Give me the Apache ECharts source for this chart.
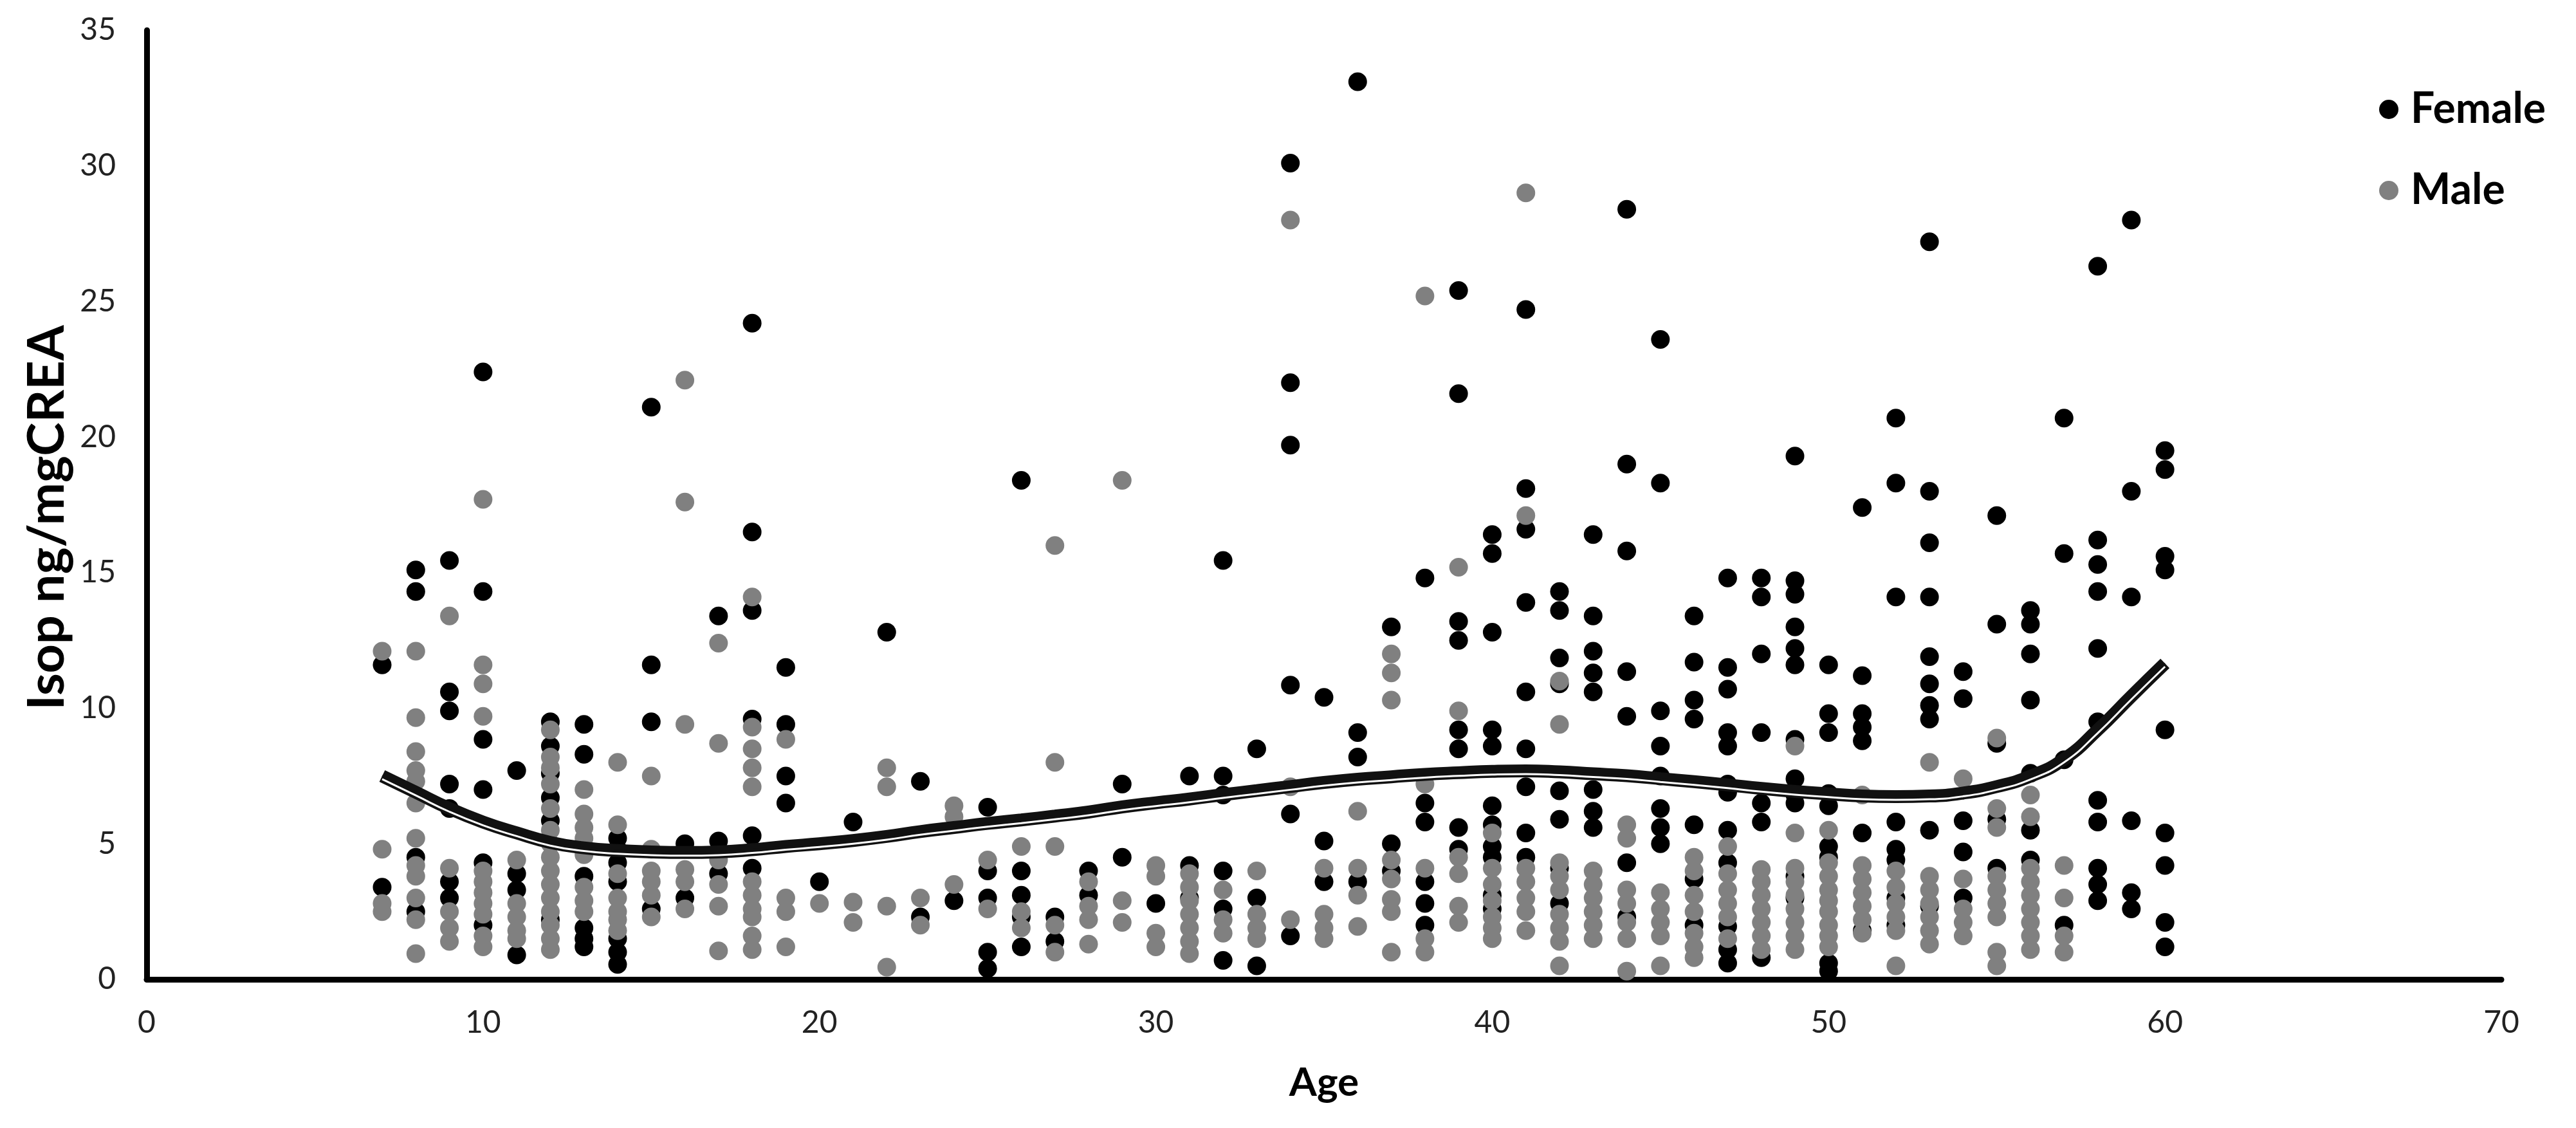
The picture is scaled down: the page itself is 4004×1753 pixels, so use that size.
<!DOCTYPE html>
<html>
<head>
<meta charset="utf-8">
<script src="https://cdn.jsdelivr.net/npm/echarts@6/dist/echarts.min.js"></script>
<style>
html,body{margin:0;padding:0;background:#fff;}
#chart{width:4004px;height:1753px;}
</style>
</head>
<body>
<div id="chart"></div>
<script>
// ---- data ----
const seriesNames = ['Female', 'Male'];
const xTicks = [0, 10, 20, 30, 40, 50, 60, 70];
const yTicks = [0, 5, 10, 15, 20, 25, 30, 35];

const femalePoints = [
[7,11.6],[7,3.4],
[8,15.1],[8,14.3],[8,4.5],[8,2.5],
[9,15.45],[9,10.6],[9,9.9],[9,7.2],[9,6.3],[9,3.6],[9,3.0],
[10,22.4],[10,14.3],[10,8.85],[10,7.0],[10,4.3],[10,2.0],
[11,7.7],[11,3.9],[11,3.3],[11,0.9],
[12,9.5],[12,8.6],[12,7.6],[12,6.7],[12,5.85],[12,2.2],
[13,9.4],[13,8.3],[13,3.8],[13,1.9],[13,1.5],[13,1.2],
[14,5.2],[14,4.8],[14,4.3],[14,3.6],[14,1.5],[14,1.0],[14,0.55],
[15,21.1],[15,11.6],[15,9.5],[15,2.6],
[16,5.0],[16,3.0],
[17,13.4],[17,5.1],[17,3.9],
[18,24.2],[18,16.5],[18,13.6],[18,9.6],[18,5.3],[18,4.1],
[19,11.5],[19,9.4],[19,7.5],[19,6.5],
[20,3.6],
[21,5.8],
[22,12.8],
[23,7.3],[23,2.3],
[24,2.9],
[25,6.35],[25,4.0],[25,3.0],[25,1.0],[25,0.4],
[26,18.4],[26,4.0],[26,3.1],[26,2.3],[26,1.2],
[27,2.3],[27,1.4],
[28,4.0],[28,3.1],
[29,7.2],[29,4.5],
[30,2.8],
[31,7.5],[31,4.2],[31,3.0],
[32,15.45],[32,7.5],[32,6.8],[32,4.0],[32,2.6],[32,0.7],
[33,8.5],[33,3.0],[33,0.5],
[34,30.1],[34,22.0],[34,19.7],[34,10.85],[34,6.1],[34,1.6],
[35,10.4],[35,5.1],[35,3.6],
[36,33.1],[36,9.1],[36,8.2],[36,3.6],
[37,13.0],[37,5.0],[37,4.0],
[38,14.8],[38,6.5],[38,5.8],[38,3.6],[38,2.8],[38,2.0],
[39,25.4],[39,21.6],[39,13.2],[39,12.5],[39,9.2],[39,8.5],[39,5.6],[39,4.8],
[40,16.4],[40,15.7],[40,12.8],[40,9.2],[40,8.6],[40,6.4],[40,5.7],[40,4.9],[40,4.5],[40,3.1],[40,2.6],
[41,24.7],[41,18.1],[41,16.6],[41,13.9],[41,10.6],[41,8.5],[41,7.1],[41,5.4],[41,4.5],
[42,14.3],[42,13.6],[42,11.85],[42,10.9],[42,6.95],[42,5.9],[42,4.1],[42,2.8],
[43,16.4],[43,13.4],[43,12.1],[43,11.3],[43,10.6],[43,7.0],[43,6.2],[43,5.6],
[44,28.4],[44,19.0],[44,15.8],[44,11.35],[44,9.7],[44,4.3],[44,2.3],
[45,23.6],[45,18.3],[45,9.9],[45,8.6],[45,7.5],[45,6.3],[45,5.6],[45,5.0],
[46,13.4],[46,11.7],[46,10.3],[46,9.6],[46,5.7],[46,3.7],[46,2.0],
[47,14.8],[47,11.5],[47,10.7],[47,9.1],[47,8.6],[47,7.2],[47,6.9],[47,5.5],[47,4.3],[47,1.95],[47,1.1],[47,0.6],
[48,14.8],[48,14.1],[48,12.0],[48,9.1],[48,6.5],[48,5.8],[48,0.8],
[49,19.3],[49,14.7],[49,14.2],[49,13.0],[49,12.2],[49,11.6],[49,8.85],[49,7.4],[49,6.8],[49,6.5],[49,3.8],[49,3.0],
[50,11.6],[50,9.8],[50,9.1],[50,6.85],[50,6.4],[50,4.9],[50,4.5],[50,0.6],[50,0.3],
[51,17.4],[51,11.2],[51,9.8],[51,9.3],[51,8.8],[51,5.4],[51,1.8],
[52,20.7],[52,18.3],[52,14.1],[52,5.8],[52,4.8],[52,4.4],[52,3.0],[52,2.0],
[53,27.2],[53,18.0],[53,16.1],[53,14.1],[53,11.9],[53,10.9],[53,10.1],[53,9.6],[53,5.5],[53,2.7],
[54,11.35],[54,10.35],[54,5.85],[54,4.7],[54,3.0],
[55,17.1],[55,13.1],[55,8.7],[55,5.9],[55,4.1],
[56,13.6],[56,13.1],[56,12.0],[56,10.3],[56,7.6],[56,5.5],[56,4.4],
[57,20.7],[57,15.7],[57,8.1],[57,2.0],
[58,26.3],[58,16.2],[58,15.3],[58,14.3],[58,12.2],[58,9.5],[58,6.6],[58,5.8],[58,4.1],[58,3.5],[58,2.9],
[59,28.0],[59,18.0],[59,14.1],[59,5.85],[59,3.2],[59,2.6],
[60,19.5],[60,18.8],[60,15.6],[60,15.1],[60,9.2],[60,5.4],[60,4.2],[60,2.1],[60,1.2]
];

const malePoints = [
[7,12.1],[7,4.8],[7,2.8],[7,2.5],
[8,12.1],[8,9.65],[8,8.4],[8,7.7],[8,7.3],[8,6.5],[8,5.2],[8,4.2],[8,3.8],[8,3.0],[8,2.2],[8,0.95],
[9,13.4],[9,4.1],[9,2.5],[9,1.9],[9,1.4],
[10,17.7],[10,11.6],[10,10.9],[10,9.7],[10,4.0],[10,3.6],[10,3.2],[10,2.8],[10,2.4],[10,1.6],[10,1.2],
[11,4.4],[11,2.8],[11,2.3],[11,1.8],[11,1.5],
[12,9.2],[12,8.2],[12,7.8],[12,7.2],[12,6.3],[12,5.5],[12,5.0],[12,4.5],[12,4.0],[12,3.5],[12,3.0],[12,2.5],[12,2.0],[12,1.5],[12,1.1],
[13,7.0],[13,6.1],[13,5.6],[13,5.2],[13,4.6],[13,3.4],[13,2.9],[13,2.5],
[14,8.0],[14,5.7],[14,3.9],[14,3.0],[14,2.5],[14,2.2],[14,1.8],
[15,7.5],[15,4.8],[15,4.0],[15,3.6],[15,3.1],[15,2.3],
[16,22.1],[16,17.6],[16,9.4],[16,4.05],[16,3.6],[16,2.6],
[17,12.4],[17,8.7],[17,4.4],[17,3.5],[17,2.7],[17,1.05],
[18,14.1],[18,9.3],[18,8.5],[18,7.8],[18,7.1],[18,3.6],[18,3.1],[18,2.6],[18,2.3],[18,1.6],[18,1.1],
[19,8.85],[19,3.0],[19,2.5],[19,1.2],
[20,2.8],
[21,2.85],[21,2.1],
[22,7.8],[22,7.1],[22,2.7],[22,0.45],
[23,3.0],[23,2.0],
[24,6.4],[24,6.0],[24,3.5],
[25,4.4],[25,2.6],
[26,4.9],[26,2.5],[26,1.9],
[27,16.0],[27,8.0],[27,4.9],[27,2.0],[27,1.0],
[28,3.6],[28,2.7],[28,2.2],[28,1.3],
[29,18.4],[29,2.9],[29,2.1],
[30,4.2],[30,3.8],[30,1.7],[30,1.2],
[31,3.9],[31,3.4],[31,2.9],[31,2.4],[31,1.9],[31,1.4],[31,0.95],
[32,3.3],[32,2.2],[32,1.7],
[33,4.0],[33,2.4],[33,1.9],[33,1.5],
[34,28.0],[34,7.1],[34,2.2],
[35,4.1],[35,2.4],[35,1.9],[35,1.5],
[36,6.2],[36,4.1],[36,3.1],[36,1.95],
[37,12.0],[37,11.3],[37,10.3],[37,4.4],[37,3.7],[37,2.95],[37,2.5],[37,1.0],
[38,25.2],[38,7.2],[38,4.1],[38,1.5],[38,1.0],
[39,15.2],[39,9.9],[39,4.5],[39,3.9],[39,2.7],[39,2.1],
[40,5.4],[40,4.1],[40,3.5],[40,2.9],[40,2.3],[40,1.9],[40,1.5],
[41,29.0],[41,17.1],[41,4.1],[41,3.6],[41,3.0],[41,2.5],[41,1.8],
[42,11.0],[42,9.4],[42,4.3],[42,3.8],[42,3.3],[42,2.4],[42,1.9],[42,1.4],[42,0.5],
[43,4.0],[43,3.5],[43,3.0],[43,2.5],[43,2.0],[43,1.5],
[44,5.7],[44,5.2],[44,3.3],[44,2.8],[44,2.1],[44,1.5],[44,0.3],
[45,3.2],[45,2.6],[45,2.1],[45,1.6],[45,0.5],
[46,4.5],[46,4.0],[46,3.1],[46,2.5],[46,1.7],[46,1.2],[46,0.8],
[47,4.9],[47,3.9],[47,3.3],[47,2.8],[47,2.3],[47,1.5],
[48,4.05],[48,3.6],[48,3.1],[48,2.6],[48,2.1],[48,1.6],[48,1.1],
[49,8.6],[49,5.4],[49,4.1],[49,3.6],[49,3.1],[49,2.6],[49,2.1],[49,1.6],[49,1.1],
[50,5.5],[50,4.3],[50,3.8],[50,3.3],[50,2.9],[50,2.5],[50,2.0],[50,1.6],[50,1.2],
[51,6.8],[51,4.2],[51,3.7],[51,3.2],[51,2.7],[51,2.2],[51,1.7],
[52,4.0],[52,3.4],[52,2.8],[52,2.3],[52,1.8],[52,0.5],
[53,8.0],[53,3.8],[53,3.3],[53,2.8],[53,2.3],[53,1.8],[53,1.3],
[54,7.4],[54,3.7],[54,2.6],[54,2.1],[54,1.6],
[55,8.9],[55,6.3],[55,5.6],[55,3.8],[55,3.3],[55,2.8],[55,2.3],[55,1.0],[55,0.5],
[56,6.8],[56,6.0],[56,4.1],[56,3.6],[56,3.1],[56,2.6],[56,2.1],[56,1.6],[56,1.1],
[57,4.2],[57,3.0],[57,1.6],[57,1.0]
];

// polynomial trend line as drawn in the picture (read at each age)
const trendAge = [7,8,9,10,11,12,13,14,15,16,17,18,19,20,21,22,23,24,25,26,27,28,29,30,31,32,33,34,35,36,37,38,39,40,41,42,43,44,45,46,47,48,49,50,51,52,53,54,55,56,57,58,59,60];
const trendIsop = [7.5,6.9,6.3,5.8,5.4,5.05,4.85,4.75,4.7,4.68,4.7,4.78,4.9,5.0,5.12,5.27,5.45,5.6,5.75,5.88,6.02,6.17,6.36,6.51,6.65,6.81,6.96,7.11,7.26,7.38,7.47,7.56,7.62,7.67,7.69,7.65,7.58,7.51,7.4,7.29,7.17,7.04,6.93,6.84,6.76,6.74,6.76,6.87,7.11,7.49,8.12,9.2,10.44,11.65];

// ---- chart ----
const FONT = 'Lato, "Noto Sans", sans-serif';
const trendData = trendAge.map((a, i) => [a, trendIsop[i]]);
const chart = echarts.init(document.getElementById('chart'), null, {renderer: 'canvas'});

chart.setOption({
  animation: false,
  backgroundColor: '#ffffff',
  grid: {left: 228, right: 116, top: 47, bottom: 231, containLabel: false},
  legend: {
    orient: 'vertical',
    left: 3693,
    top: 130,
    itemWidth: 30,
    itemHeight: 30,
    itemGap: 56,
    icon: 'circle',
    data: seriesNames,
    textStyle: {fontFamily: FONT, fontWeight: 'bold', fontSize: 66, color: '#000', lineHeight: 70, padding: [0, 0, 0, 14]}
  },
  xAxis: {
    type: 'value', min: xTicks[0], max: xTicks[xTicks.length - 1], interval: 10,
    name: 'Age', nameLocation: 'middle', nameGap: 130,
    nameTextStyle: {fontFamily: FONT, fontWeight: 'bold', fontSize: 62, color: '#000'},
    axisLine: {show: true, onZero: false, lineStyle: {color: '#000', width: 9}},
    axisTick: {show: false},
    splitLine: {show: false},
    axisLabel: {fontFamily: FONT, fontSize: 48, color: '#222', margin: 44}
  },
  yAxis: {
    type: 'value', min: yTicks[0], max: yTicks[yTicks.length - 1], interval: 5,
    name: 'Isop ng/mgCREA', nameLocation: 'middle', nameGap: 112, nameRotate: 90,
    nameTextStyle: {fontFamily: FONT, fontWeight: 'bold', fontSize: 79, color: '#000', padding: [0, 40, 0, 0]},
    axisLine: {show: true, onZero: false, lineStyle: {color: '#000', width: 9}},
    axisTick: {show: false},
    splitLine: {show: false},
    axisLabel: {fontFamily: FONT, fontSize: 48, color: '#222', margin: 48}
  },
  series: [
    {
      name: seriesNames[0], type: 'scatter', data: femalePoints,
      symbol: 'circle', symbolSize: 29,
      itemStyle: {color: '#000000', opacity: 1}
    },
    {
      name: seriesNames[1], type: 'scatter', data: malePoints,
      symbol: 'circle', symbolSize: 29,
      itemStyle: {color: '#808080', opacity: 1}
    },
    {
      name: 'trend', type: 'line', data: trendData, smooth: 0.5,
      showSymbol: false, symbol: 'none', z: 5,
      lineStyle: {color: '#111', width: 20}
    },
    {
      name: 'trend2', type: 'line', data: trendData, smooth: 0.5,
      showSymbol: false, symbol: 'none', z: 6,
      lineStyle: {color: '#111', width: 3, shadowColor: '#ffffff', shadowBlur: 0, shadowOffsetY: 5}
    }
  ]
});
</script>
</body>
</html>
